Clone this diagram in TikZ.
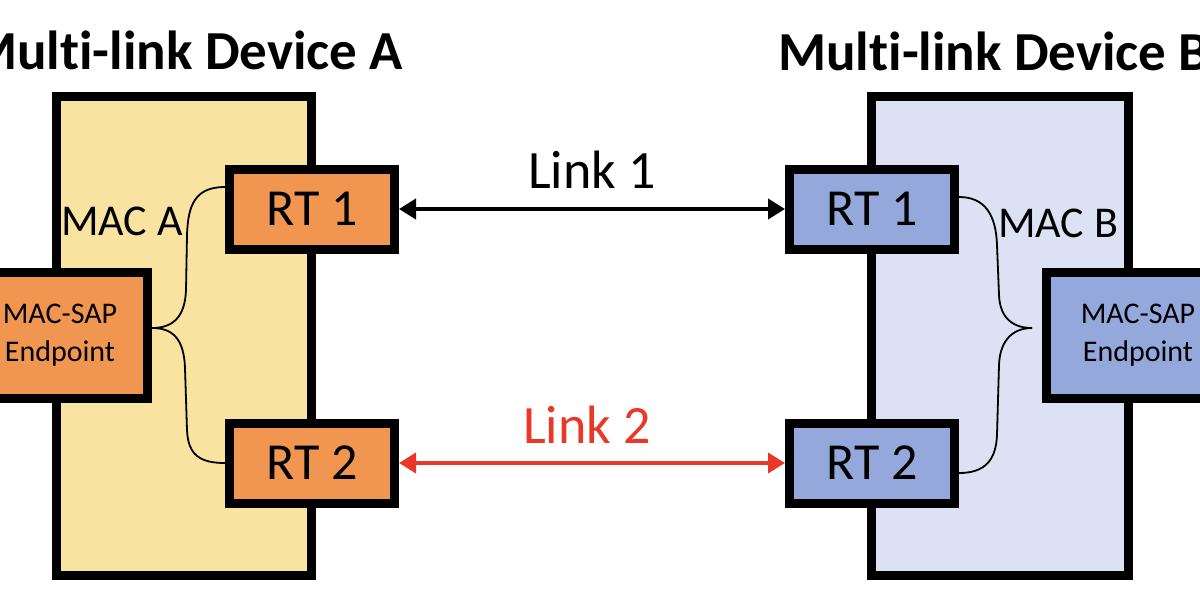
\documentclass[tikz,border=0pt]{standalone}
\usepackage{fontspec}
\setmainfont{Carlito}[RawFeature=-liga]
\usetikzlibrary{arrows.meta,calc}
\definecolor{orangefill}{RGB}{240,150,80}
\definecolor{yellowbg}{RGB}{249,227,161}
\definecolor{bluefill}{RGB}{148,168,220}
\definecolor{bluebg}{RGB}{220,225,244}
\definecolor{linkred}{RGB}{235,55,40}
\begin{document}
\begin{tikzpicture}[x=1pt,y=-1pt,
  device/.style={draw=black, line width=9pt, rectangle, minimum width=255pt, minimum height=479pt, inner sep=0pt},
  rtbox/.style={draw=black, line width=9pt, minimum width=165pt, minimum height=80pt, inner sep=0pt, font=\fontsize{52}{62}\selectfont},
  sapbox/.style={draw=black, line width=9pt, minimum height=126pt, inner sep=0pt, align=center, font=\fontsize{30}{38}\selectfont},
  titletext/.style={font=\bfseries\fontsize{55}{64}\selectfont, anchor=base, inner sep=0pt},
  maclabel/.style={font=\fontsize{44}{52}\selectfont, anchor=base west, inner sep=0pt},
  brace/.style={line width=1.8pt},
  linkarrow/.style={line width=4pt, {Triangle[length=17pt,width=20pt]}-{Triangle[length=17pt,width=20pt]}},
  linklabel/.style={font=\fontsize{54}{64}\selectfont, anchor=base, inner sep=0pt}
]
\useasboundingbox (0,0) rectangle (1200,600);
\clip (0,0) rectangle (1200,600);

% device boxes
\node[device, fill=yellowbg] (devA) at (184,336) {};
\node[device, fill=bluebg, minimum width=257pt] (devB) at (1000,336) {};

% titles
\node[titletext] (titleA) at (186,69) {Multi-link Device A};
\node[titletext] (titleB) at (994,70) {Multi-link Device B};

% MAC labels
\node[maclabel] (macA) at (61,235) {MAC A};
\node[maclabel] (macB) at (998,237) {MAC B};

% RT boxes
\node[rtbox, fill=orangefill] (rtoneA) at (312,209) {RT 1};
\node[rtbox, fill=orangefill] (rttwoA) at (312,463) {RT 2};
\node[rtbox, fill=bluefill] (rtoneB) at (872,209) {RT 1};
\node[rtbox, fill=bluefill] (rttwoB) at (872,463) {RT 2};

% MAC-SAP endpoints
\node[sapbox, fill=orangefill, minimum width=175pt] (sapA) at (60,335.5) {MAC-SAP\\Endpoint};
\node[sapbox, fill=bluefill, minimum width=183pt] (sapB) at (1138,335.5) {MAC-SAP\\Endpoint};

% brace tips
\coordinate (tipA) at ($(sapA.east)+(0,-7.5)$);
\coordinate (tipB) at ($(sapB.west)+(-10,-7.5)$);

% braces
\draw[brace] ($(rtoneA.west)+(0,-22)$) .. controls (195,187) and (188,205) .. (187,235)
  -- (186,290) .. controls (185,318) and (172,328) .. (tipA);
\draw[brace] (tipA) .. controls (172,328) and (184,338) .. (185,368)
  -- (187,430) .. controls (188,455) and (200,463) .. (rttwoA.west);
\draw[brace] ($(rtoneB.east)+(0,-12)$) .. controls (985,197) and (996,215) .. (997,245)
  -- (999,295) .. controls (1000,320) and (1015,328) .. (tipB);
\draw[brace] (tipB) .. controls (1015,328) and (1000,338) .. (999,365)
  -- (997,435) .. controls (996,460) and (985,473) .. ($(rttwoB.east)+(0,10)$);

% links
\draw[linkarrow] (rtoneA) -- (rtoneB) node[linklabel, midway, yshift=21pt] (linkone) {Link 1};
\draw[linkarrow, draw=linkred, fill=linkred] (rttwoA) -- (rttwoB) node[linklabel, text=linkred, midway, xshift=-5pt, yshift=20pt] (linktwo) {Link 2};
\end{tikzpicture}
\end{document}
